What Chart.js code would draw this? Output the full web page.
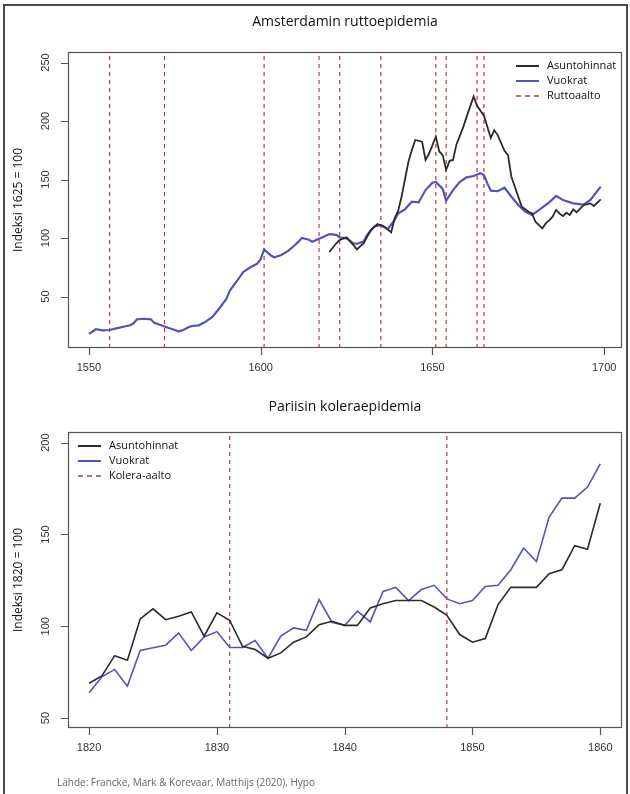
<!DOCTYPE html>
<html><head><meta charset="utf-8">
<script src="https://cdn.jsdelivr.net/npm/chart.js@4/dist/chart.umd.min.js"></script>
<style>
html,body{margin:0;padding:0;background:#fff;}
#wrap{position:relative;width:630px;height:794px;overflow:hidden;background:#fff;}
#frame{position:absolute;left:3px;top:4px;width:621px;height:800px;border:2px solid #4a4a4a;pointer-events:none;}
canvas{position:absolute;left:0;}
#src{position:absolute;left:57px;top:775px;font:10px "Open Sans",sans-serif;color:#666;}
</style></head><body>
<div id="wrap">
<canvas id="c1" width="630" height="390" style="top:0"></canvas>
<canvas id="c2" width="630" height="404" style="top:390px"></canvas>
<div id="frame"></div>
<div id="src">Lähde: Francke, Mark &amp; Korevaar, Matthijs (2020), Hypo</div>
</div>
<script>
// ---------- Amsterdam (top) ----------
const amsRentYears = [1550,1552,1554,1556,1558,1560,1562,1563,1564,1566,1568,1569,1571,1573,1575,1576,1577,1579,1580,1582,1584,1586,1588,1590,1591,1592,1593,1595,1597,1599,1600,1601,1603,1604,1606,1608,1610,1611,1612,1614,1615,1617,1618,1620,1622,1623,1625,1627,1628,1630,1631,1633,1635,1637,1639,1640,1642,1644,1646,1648,1650,1651,1653,1654,1656,1658,1660,1662,1664,1665,1666,1667,1669,1671,1673,1675,1677,1679,1681,1684,1686,1688,1691,1694,1696,1699];
const amsRentValues = [18,22,21,21.4,22.8,24.2,25.4,27.1,30.5,31,30.5,27.6,25.4,23.3,21.4,20.2,20.8,23.7,24.8,25.4,28.5,32.7,40,48,55,59,63,71.2,75,78,82,90.3,85,83.5,85.5,89,94,96.9,100,98.6,96.8,99.3,100.6,103.4,102.7,100.5,99.7,95.5,95,97,102.6,109.7,111.1,107.5,115.4,121,124.5,131,130.5,141,147.3,148,142,132,141,148,151.9,153,155.3,153.8,146.7,140.5,140,143,135.3,128.2,122.5,119.7,123.9,130.5,136,132.5,129.6,128.5,132.5,144];
const amsPriceYears = [1620,1622,1623,1625,1627,1628,1630,1632,1634,1636,1638,1639,1640,1641,1642,1643,1644,1645,1647,1648,1649,1651,1652,1653,1654,1655,1656,1657,1659,1660,1662,1663,1665,1667,1668,1669,1671,1672,1673,1675,1676,1678,1679,1680,1682,1683,1684,1685,1686,1687,1688,1689,1690,1691,1692,1694,1696,1697,1699];
const amsPriceValues = [88,95.5,98.3,100.6,94,90.3,95.5,106.5,112,109.7,104.8,116.8,123,135,150,165,175,183.8,182.3,166.7,172,186.6,174,170.9,158.4,166,166.7,180,195,204,221,213,204.5,185.5,192.3,188,174.5,170.9,152.4,135.3,126.8,122.5,121,113.9,108.3,112.5,115,118.2,124,121,118.8,121.6,119.7,124.5,122,128.2,129.6,127.4,133.1];
const amsPlagueYears = [1556,1572,1601,1617,1623,1635,1651,1654,1663,1665];
const amsXTicks = [1550,1600,1650,1700];
const amsYTicks = [50,100,150,200,250];

// ---------- Paris (bottom) ----------
const parYears = [1820,1821,1822,1823,1824,1825,1826,1827,1828,1829,1830,1831,1832,1833,1834,1835,1836,1837,1838,1839,1840,1841,1842,1843,1844,1845,1846,1847,1848,1849,1850,1851,1852,1853,1854,1855,1856,1857,1858,1859,1860];
const parPriceValues = [69,73,84,81.5,104,109.5,103.6,105.4,107.8,94.6,107.3,103.3,89.1,87.3,82.6,85.5,91.3,94.2,100.9,102.7,100.5,100.5,110,112.3,114,114,114,110.5,106,95.5,91.3,93.3,111.8,121.2,121.2,121.2,128.6,130.8,143.9,142,167];
const parRentValues = [63.8,72.5,76.5,67.4,86.8,88.3,89.7,96.4,86.8,94.2,97.1,88.4,88.4,92.2,82.6,94.6,99.1,97.8,114.5,102.2,100.5,108.2,102.4,119,121.2,114,120,122.3,114.9,112.3,114,121.7,122.3,130.8,142.6,135.3,159.5,169.8,169.8,175.8,188.4];
const parCholeraYears = [1831,1848];
const parXTicks = [1820,1830,1840,1850,1860];
const parYTicks = [50,100,150,200];

const BLACK = '#2b2b2b', BLUE = '#5454b8', RED = 'rgba(170,40,40,0.9)';

function pts(xs, ys){ return xs.map((x,i)=>({x:x,y:ys[i]})); }
function vlines(years, ymin, ymax){
  const d=[]; years.forEach(y=>{ d.push({x:y,y:ymin}); d.push({x:y,y:ymax}); d.push({x:y,y:null}); }); return d;
}

function decor(cfg){
  return {
    id:'decor',
    afterDatasetsDraw(chart){
      const ctx=chart.ctx, a=chart.chartArea, xs=chart.scales.x, ys=chart.scales.y;
      ctx.save();
      ctx.strokeStyle='#555'; ctx.lineWidth=1.2;
      ctx.strokeRect(a.left+0.5,a.top+0.5,a.right-a.left-1,a.bottom-a.top-1);
      ctx.fillStyle='#111'; ctx.font='14px "Open Sans", sans-serif';
      ctx.textAlign='center'; ctx.textBaseline='middle';
      ctx.fillText(cfg.title,(a.left+a.right)/2,cfg.titleY);
      ctx.font='11px "Liberation Sans", Arial, sans-serif'; ctx.fillStyle='#333';
      ctx.beginPath();
      cfg.xticks.forEach(t=>{ const px=Math.round(xs.getPixelForValue(t))+0.5; ctx.moveTo(px,a.bottom); ctx.lineTo(px,a.bottom+7); });
      ctx.stroke();
      cfg.xticks.forEach(t=>{ ctx.fillText(String(t),xs.getPixelForValue(t),a.bottom+20); });
      ctx.beginPath();
      cfg.yticks.forEach(t=>{ const py=Math.round(ys.getPixelForValue(t))+0.5; ctx.moveTo(a.left,py); ctx.lineTo(a.left-7,py); });
      ctx.stroke();
      cfg.yticks.forEach(t=>{ const py=ys.getPixelForValue(t); ctx.save(); ctx.translate(a.left-22,py); ctx.rotate(-Math.PI/2); ctx.fillText(String(t),0,0); ctx.restore(); });
      ctx.font='12px "Open Sans", sans-serif'; ctx.fillStyle='#111';
      ctx.save(); ctx.translate(19,(a.top+a.bottom)/2); ctx.rotate(-Math.PI/2); ctx.fillText(cfg.ytitle,0,0); ctx.restore();
      ctx.font='11px "Open Sans", sans-serif'; ctx.textAlign='left';
      cfg.legend.forEach((it,i)=>{
        const y=cfg.legY+i*15;
        ctx.strokeStyle=it.color; ctx.lineWidth=it.dash?1.6:2; ctx.setLineDash(it.dash?[5,4]:[]);
        ctx.beginPath(); ctx.moveTo(cfg.legX,y); ctx.lineTo(cfg.legX+23,y); ctx.stroke();
        ctx.setLineDash([]);
        ctx.fillStyle='#111'; ctx.fillText(it.label,cfg.legX+31,y);
      });
      ctx.restore();
    }
  };
}

function build(id, o){
  return new Chart(document.getElementById(id),{
    type:'line',
    data:{datasets:[
      {label:'wave',data:vlines(o.waves,o.ymin,o.ymax),borderColor:RED,borderWidth:1.2,borderDash:[4,4],pointRadius:0,spanGaps:false,order:3},
      {label:'Vuokrat',data:pts(o.rx,o.rv),borderColor:BLUE,borderWidth:o.bw,pointRadius:0,tension:0,order:2},
      {label:'Asuntohinnat',data:pts(o.px,o.pv),borderColor:BLACK,borderWidth:o.kw,pointRadius:0,tension:0,order:1}
    ]},
    options:{
      responsive:false, animation:false, devicePixelRatio:1,
      layout:{padding:o.pad},
      plugins:{legend:{display:false},tooltip:{enabled:false},title:{display:false}},
      scales:{
        x:{type:'linear',min:o.xmin,max:o.xmax,display:false},
        y:{type:'linear',min:o.ymin,max:o.ymax,display:false}
      }
    },
    plugins:[decor(o.decor)]
  });
}

build('c1',{
  waves:amsPlagueYears, ymin:6, ymax:259, xmin:1543.9, xmax:1705.2, bw:2.2, kw:1.8,
  rx:amsRentYears, rv:amsRentValues, px:amsPriceYears, pv:amsPriceValues,
  pad:{left:68,right:8,top:52,bottom:42},
  decor:{title:'Amsterdamin ruttoepidemia',titleY:22,xticks:amsXTicks,yticks:amsYTicks,ytitle:'Indeksi 1625 = 100',
    legX:516,legY:66,legend:[{label:'Asuntohinnat',color:BLACK},{label:'Vuokrat',color:BLUE},{label:'Ruttoaalto',color:RED,dash:true}]}
});
build('c2',{
  waves:parCholeraYears, ymin:44.6, ymax:205.8, xmin:1818.35, xmax:1861.7, bw:1.6, kw:1.6,
  rx:parYears, rv:parRentValues, px:parYears, pv:parPriceValues,
  pad:{left:68,right:8,top:42,bottom:66},
  decor:{title:'Pariisin koleraepidemia',titleY:17,xticks:parXTicks,yticks:parYTicks,ytitle:'Indeksi 1820 = 100',
    legX:78,legY:56,legend:[{label:'Asuntohinnat',color:BLACK},{label:'Vuokrat',color:BLUE},{label:'Kolera-aalto',color:RED,dash:true}]}
});
</script>
</body></html>
